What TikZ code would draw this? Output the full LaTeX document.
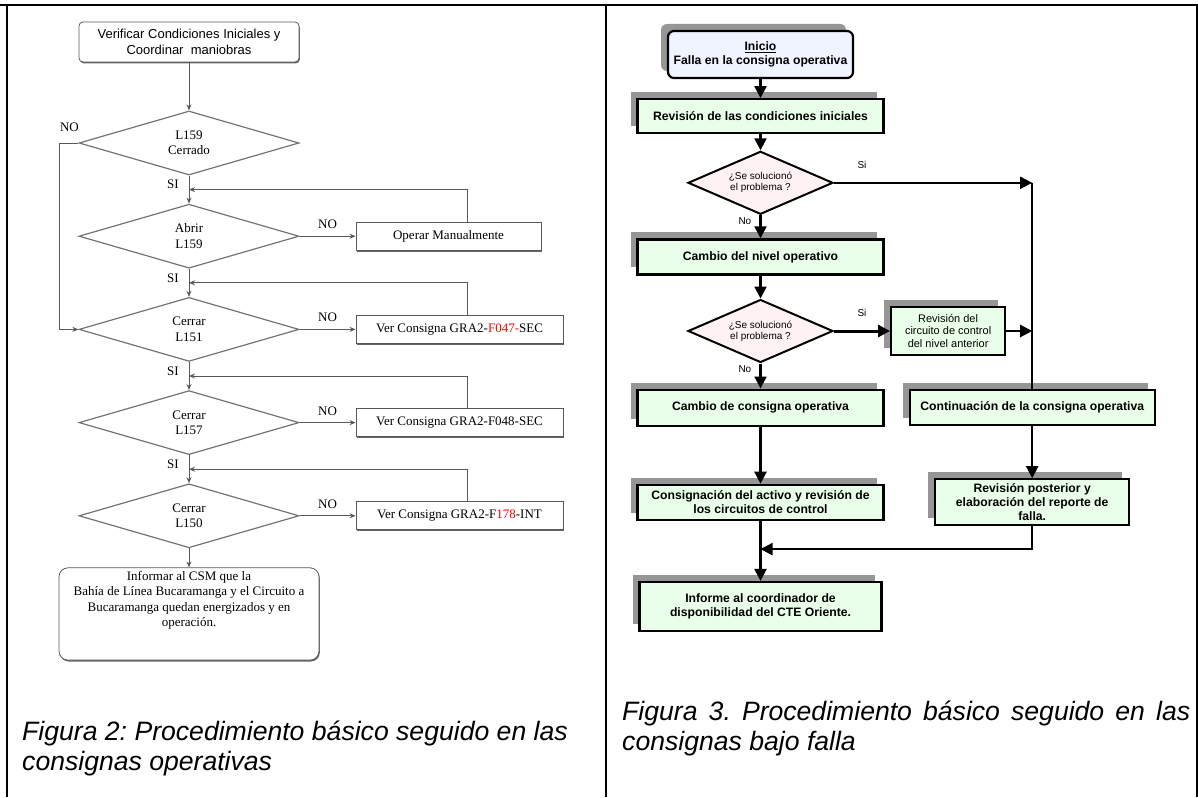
\documentclass[tikz,border=0pt]{standalone}
\usepackage{fontspec}
\setmainfont{Liberation Serif}
\setsansfont{Liberation Sans}
\usetikzlibrary{arrows.meta,positioning,shapes.geometric,shadows,calc}

\definecolor{boxgreen}{RGB}{234,255,234}
\definecolor{boxblue}{RGB}{240,244,255}
\definecolor{decpink}{RGB}{255,242,242}
\definecolor{shadowgray}{RGB}{150,150,150}

\newcommand{\opfont}{\rmfamily\fontsize{13}{15.5}\selectfont}
\newcommand{\startfont}{\sffamily\fontsize{13}{16}\selectfont}
\newcommand{\blockfont}{\sffamily\bfseries\fontsize{12.2}{14}\selectfont}
\newcommand{\queryfont}{\sffamily\fontsize{10}{11}\selectfont}
\newcommand{\revfont}{\sffamily\fontsize{11}{12.5}\selectfont}
\newcommand{\capfont}{\sffamily\itshape\fontsize{26.6}{29.5}\selectfont\frenchspacing}

\tikzset{
  >=Stealth,
  opline/.style    = {draw=black!65, line width=0.9pt},
  opflow/.style    = {opline, -{Stealth[length=6pt,width=5pt]}},
  opdec/.style     = {diamond, draw=black!55, line width=1.2pt, aspect=3.4, inner sep=0pt, minimum width=220pt, minimum height=64pt, align=center, font=\opfont},
  opbox/.style     = {rectangle, draw=black!65, line width=0.8pt, fill=white, minimum height=28pt, font=\opfont, drop shadow={shadow xshift=0.8pt, shadow yshift=-1.4pt, fill=black!60, opacity=1}},
  startbox/.style  = {opbox, rounded corners=4pt, minimum width=220pt, minimum height=40pt, align=center, font=\startfont},
  endbox/.style    = {opbox, rounded corners=9pt, minimum width=260pt, minimum height=92pt, align=center, text depth=30pt},
  oplabel/.style   = {font=\opfont, inner sep=1pt},
  flow/.style      = {line width=2.2pt, -{Triangle[length=12pt,width=12pt]}},
  block/.style     = {rectangle, draw, line width=2.2pt, fill=boxgreen, align=center, inner ysep=2pt, font=\blockfont, minimum width=246pt, minimum height=35pt, drop shadow={shadow xshift=-7pt, shadow yshift=7pt, fill=shadowgray, opacity=1}},
  query/.style     = {diamond, draw, line width=2pt, fill=decpink, aspect=2.3, inner sep=0pt, minimum width=145pt, minimum height=63pt, align=center, font=\queryfont},
  answer/.style    = {font=\queryfont, inner sep=1pt},
  caption/.style   = {font=\capfont, align=left, inner sep=0pt}
}

\begin{document}
\begin{tikzpicture}[x=1pt, y=-1pt, node distance=28pt]
\useasboundingbox (0,0) rectangle (1198,797);

% table frame
\draw[line width=2pt] (0,5) -- (1198,5);
\draw[line width=2pt] (6.5,5) -- (6.5,797);
\draw[line width=2pt] (606,5) -- (606,797);
\draw[line width=2pt] (1196.5,5) -- (1196.5,797);


% Figura 2
\node[startbox] (start) at (189,42) {Verificar Condiciones Iniciales y\\Coordinar\ \ maniobras};
\node[opdec] (d1) [below=48pt of start] {L159\\Cerrado};
\node[opdec] (d2) [below=of d1] {Abrir\\L159};
\node[opdec] (d3) [below=of d2] {Cerrar\\L151};
\node[opdec] (d4) [below=of d3] {Cerrar\\L157};
\node[opdec] (d5) [below=of d4] {Cerrar\\L150};
\node[endbox] (fin) [below=19pt of d5] {Informar al CSM que la\\Bahía de Línea Bucaramanga y el Circuito a\\Bucaramanga quedan energizados y en\\operación.};

\node[opbox, minimum width=185pt] (op) [right=56pt of d2] {Operar Manualmente};
\node[opbox, minimum width=207pt] (f047) [right=56pt of d3] {Ver Consigna GRA2-\textcolor{red}{F047-}SEC};
\node[opbox, minimum width=207pt] (f048) [right=56pt of d4] {Ver Consigna GRA2-F048-SEC};
\node[opbox, minimum width=207pt] (f178) [right=56pt of d5] {Ver Consigna GRA2-F\textcolor{red}{178}-INT};

% return points
\coordinate (j2) at ($(d2.north)+(0,14pt)$);
\coordinate (j3) at ($(d3.north)+(0,14pt)$);
\coordinate (j4) at ($(d4.north)+(0,14pt)$);
\coordinate (j5) at ($(d5.north)+(0,14pt)$);
\coordinate (nocorner) at ($(d1.west)+(-19pt,0pt)$);

% Connections
\draw[opflow] (start) -- (d1);
\draw[opflow] (d1) -- (d2);
\draw[opflow] (d2) -- (d3);
\draw[opflow] (d3) -- (d4);
\draw[opflow] (d4) -- (d5);
\draw[opflow] (d5) -- (fin);
\draw[opflow] (d1.west) -- (nocorner) |- (d3.west);
\draw[opflow] (d2.east) -- node[oplabel, above=6pt] (no2) {NO} (op.west);
\draw[opflow] (d3.east) -- node[oplabel, above=6pt] (no3) {NO} (f047.west);
\draw[opflow] (d4.east) -- node[oplabel, above=6pt] (no4) {NO} (f048.west);
\draw[opflow] (d5.east) -- node[oplabel, above=6pt] (no5) {NO} (f178.west);
\draw[opflow] ([xshift=112pt]op.north west) |- (j2);
\draw[opflow] ([xshift=112pt]f047.north west) |- (j3);
\draw[opflow] ([xshift=112pt]f048.north west) |- (j4);
\draw[opflow] ([xshift=112pt]f178.north west) |- (j5);

\node[oplabel] (no1) at ($(d1.west)+(-9pt,16pt)$) {NO};
\node[oplabel, anchor=east] (si2) at ($(j2)+(-9pt,5pt)$) {SI};
\node[oplabel, anchor=east] (si3) at ($(j3)+(-9pt,5pt)$) {SI};
\node[oplabel, anchor=east] (si4) at ($(j4)+(-9pt,5pt)$) {SI};
\node[oplabel, anchor=east] (si5) at ($(j5)+(-9pt,5pt)$) {SI};


% Figura 3
\node[block, fill=boxblue, rounded corners=6pt, minimum width=185pt, minimum height=47pt] (ini) at (760.5,54.5) {\underline{Inicio}\\Falla en la consigna operativa};
\node[block, minimum height=34pt] (rev) [below=19pt of ini] {Revisión de las condiciones iniciales};
\node[query] (qa) [below=16pt of rev] {¿Se solucionó\\el problema ?};
\node[block] (nivel) [below=23pt of qa] {Cambio del nivel operativo};
\node[query] (qb) [below=23pt of nivel] {¿Se solucionó\\el problema ?};
\node[block, minimum height=36pt] (cambio) [below=25pt of qb] {Cambio de consigna operativa};
\node[block] (consig) [below=57pt of cambio] {Consignación del activo y revisión de\\los circuitos de control};
\node[block, minimum width=242pt, minimum height=49pt] (informe) [below=60pt of consig] {Informe al coordinador de\\disponibilidad del CTE Oriente.};

\node[block, font=\revfont, minimum width=114pt, minimum height=48pt] (circ) [right=56pt of qb] {Revisión del\\circuito de control\\del nivel anterior};
\node[block, minimum width=245pt] (cont) [right=24pt of cambio] {Continuación de la consigna operativa};
\node[block, minimum width=194pt, minimum height=46pt] (post) [below=52pt of cont] {Revisión posterior y\\elaboración del reporte de\\falla.};

\coordinate (ja) at (cont.north |- qa.east);
\coordinate (jb) at (cont.north |- circ.east);
\coordinate (jc) at ($(consig.south)!0.47!(informe.north)$);

\draw[flow] (ini) -- (rev);
\draw[flow] (rev) -- (qa);
\draw[flow] (qa) -- (nivel);
\draw[flow] (nivel) -- (qb);
\draw[flow] (qb) -- (cambio);
\draw[flow] (cambio) -- (consig);
\draw[flow] (consig) -- (informe);
\draw[flow, line width=2pt] (qa.east) -- (ja);
\draw[line width=2.2pt] (ja) -- (cont.north);
\draw[flow, line width=3pt] (qb.east) -- (circ.west);
\draw[flow] (circ.east) -- (jb);
\draw[flow] (cont) -- (post);
\draw[flow] (post.south) |- (jc);

\node[answer] (sia) at ($(qa.east)+(28pt,18pt)$) {Si};
\node[answer] (sib) at ($(qb.east)+(28pt,18pt)$) {Si};
\node[answer, anchor=east] (noa) at ($(qa.south)+(-8pt,-6pt)$) {No};
\node[answer, anchor=east] (nob) at ($(qb.south)+(-8pt,-6pt)$) {No};


% captions
\node[caption, anchor=north west] (cap2) at (22,721) {Figura 2: Procedimiento básico seguido en las\\consignas operativas};
\node[caption, anchor=north west] (cap3) at (622,701) {\makebox[568pt][s]{Figura 3. Procedimiento básico seguido en las}\\consignas bajo falla};

\end{tikzpicture}
\end{document}
